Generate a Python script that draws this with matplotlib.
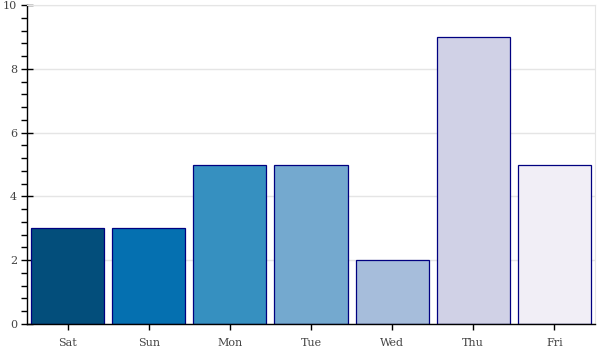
import matplotlib
matplotlib.use("Agg")
import matplotlib.pyplot as plt
from matplotlib.ticker import MultipleLocator

days = ["Sat", "Sun", "Mon", "Tue", "Wed", "Thu", "Fri"]
counts = [3, 3, 5, 5, 2, 9, 5]
colors = ["#034e7b", "#0570b0", "#3690c0", "#74a9cf", "#a6bddb", "#d0d1e6", "#f1eef6"]

fig = plt.figure(figsize=(6, 3.5), dpi=100)
ax = fig.add_axes([27 / 600, 1 - 324 / 350, 568 / 600, 319 / 350])

ax.bar(range(len(days)), counts, width=0.9, color=colors,
       edgecolor="navy", linewidth=0.9, zorder=2)

ax.set_xlim(-0.5, len(days) - 0.5)
ax.set_ylim(0, 10)
ax.set_xticks(range(len(days)))
ax.set_xticklabels(days)
ax.yaxis.set_major_locator(MultipleLocator(2))
ax.yaxis.set_minor_locator(MultipleLocator(0.4))

ax.grid(axis="y", color="#e5e5e5", linewidth=1, zorder=0)
ax.set_axisbelow(True)

for s in ["top", "right"]:
    ax.spines[s].set_color("#e5e5e5")
for s in ["left", "bottom"]:
    ax.spines[s].set_color("black")
    ax.spines[s].set_linewidth(1)

ax.tick_params(axis="both", which="major", direction="inout", length=8,
               width=1, labelsize=8, labelcolor="#444444", pad=3)
ax.tick_params(axis="x", which="major", pad=6)
ax.tick_params(axis="y", which="minor", direction="out", length=4, width=1)
ax.tick_params(axis="x", which="minor", bottom=False)
for lab in ax.get_xticklabels() + ax.get_yticklabels():
    lab.set_family("DejaVu Serif")

fig.savefig("out.png", dpi=100)
